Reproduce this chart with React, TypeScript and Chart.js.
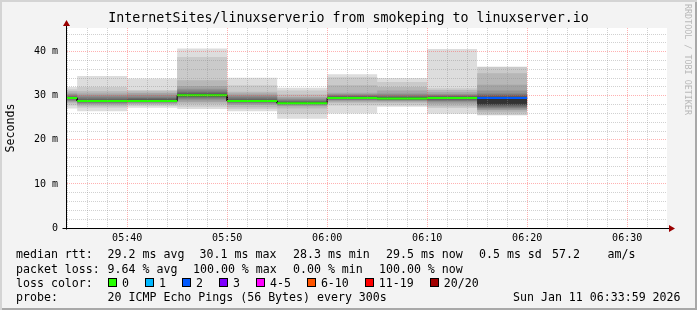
import React, { useEffect, useRef } from 'react';
import { Chart, registerables } from 'chart.js';

Chart.register(...registerables);

// ---------- texts ----------
const TITLE = 'InternetSites/linuxserverio from smokeping to linuxserver.io';
const Y_TITLE = 'Seconds';
const WATERMARK = 'RRDTOOL / TOBI OETIKER';

// ---------- data ----------
// end of each 300 s step, in minutes after 05:00
const stepEnds = [35, 40, 45, 50, 55, 60, 65, 70, 75, 80];
const stepMinutes = 5;
// median rtt per step (ms)
const medians = [29.5, 28.8, 28.8, 30.1, 28.8, 28.3, 29.5, 29.4, 29.5, 29.5];
// lost pings per step (of 20)
const losses = [0, 0, 0, 0, 0, 0, 0, 0, 0, 2];
// sorted ping rtts per step (ms), 20 slots; lost pings are split to both ends (null)
const pings0535 = [27.1, 27.8, 28.3, 28.6, 28.8, 29.0, 29.2, 29.3, 29.4, 29.5, 29.5, 29.6, 29.7, 29.9, 30.1, 30.4, 30.7, 31.1, 31.5, 32.0];
const pings0540 = [26.5, 27.3, 27.6, 28.0, 28.2, 28.4, 28.5, 28.6, 28.7, 28.8, 28.8, 28.9, 29.1, 29.4, 29.8, 30.1, 30.5, 31.0, 32.0, 34.5];
const pings0545 = [27.3, 27.7, 28.0, 28.2, 28.4, 28.5, 28.6, 28.7, 28.8, 28.8, 28.9, 29.0, 29.2, 29.5, 29.8, 30.2, 30.6, 31.0, 31.3, 33.9];
const pings0550 = [27.0, 27.5, 28.2, 28.6, 29.0, 29.3, 29.6, 29.8, 29.9, 30.1, 30.1, 30.3, 30.5, 30.8, 31.2, 31.6, 32.2, 33.5, 38.8, 40.7];
const pings0555 = [26.5, 27.0, 27.4, 27.9, 28.2, 28.4, 28.5, 28.6, 28.7, 28.8, 28.8, 28.9, 29.1, 29.4, 29.8, 30.1, 30.5, 30.9, 32.4, 34.1];
const pings0600 = [24.8, 25.9, 27.1, 27.6, 27.8, 28.0, 28.1, 28.2, 28.3, 28.3, 28.3, 28.4, 28.6, 28.8, 29.1, 29.4, 29.7, 30.3, 31.2, 31.8];
const pings0605 = [26.0, 27.8, 28.4, 28.7, 28.9, 29.1, 29.2, 29.3, 29.4, 29.5, 29.5, 29.6, 29.8, 30.0, 30.1, 30.4, 30.7, 32.4, 34.2, 34.9];
const pings0610 = [27.5, 27.8, 28.4, 28.7, 28.9, 29.0, 29.1, 29.2, 29.3, 29.4, 29.4, 29.5, 29.7, 29.9, 30.2, 30.5, 31.2, 32.0, 33.1, 34.0];
const pings0615 = [25.9, 27.2, 27.6, 28.2, 28.5, 28.8, 29.0, 29.2, 29.4, 29.5, 29.5, 29.6, 29.8, 30.0, 30.1, 30.4, 30.8, 31.3, 31.7, 40.6];
const pings0620 = [null, 25.6, 26.2, 26.7, 26.9, 27.2, 27.5, 27.8, 27.9, 28.2, 29.5, 29.7, 29.9, 30.2, 30.5, 31.2, 32.5, 35.1, 36.6, null];
const pingsByStep: (number | null)[][] = [pings0535, pings0540, pings0545, pings0550, pings0555, pings0600, pings0605, pings0610, pings0615, pings0620];

// axis range: 05:33:59 .. 06:33:59 (minutes after 05:00), seconds in ms
const xMin = 33 + 59 / 60;
const xMax = 93 + 59 / 60;
const yMin = 0;
const yMax = 45.37;
const xMinorStep = 2;
const xMajorStep = 10;
const yMinorStep = 2;
const yMajorStep = 10;

// legend texts
const RTT_LABEL = 'median rtt:';
const RTT_STATS = ['29.2 ms avg', '30.1 ms max', '28.3 ms min', '29.5 ms now', '0.5 ms sd', '57.2', 'am/s'];
const LOSS_LABEL = 'packet loss:';
const LOSS_STATS = ['9.64 % avg', '100.00 % max', '0.00 % min', '100.00 % now'];
const LOSSCOLOR_LABEL = 'loss color:';
const lossLabels = ['0', '1', '2', '3', '4-5', '6-10', '11-19', '20/20'];
const lossColors = ['#26ff00', '#00b8ff', '#0059ff', '#7e00ff', '#ff00ff', '#ff5500', '#ff0000', '#a10000'];
const lossUpper = [0, 1, 2, 3, 5, 10, 19, 20];
const PROBE_LABEL = 'probe:';
const PROBE_TEXT = '20 ICMP Echo Pings (56 Bytes) every 300s';
const DATE_TEXT = 'Sun Jan 11 06:33:59 2026';

// ---------- styles / layout ----------
const MONO = "'DejaVu Sans Mono', monospace";
const SMOKE_COLORS = ['#dddddd', '#cacaca', '#b7b7b7', '#a4a4a4', '#919191', '#7e7e7e', '#6b6b6b', '#585858', '#454545', '#323232'];
const GRID_MINOR = 'rgba(140,140,140,0.4)';
const GRID_MAJOR = 'rgba(255,70,70,0.42)';
const W = 697;
const H = 310;
const RTT_X = [107.6, 199.6, 293, 386, 479, 552, 607.6];
const LOSS_X = [107.6, 193, 293, 379];
const ROW_Y = [254, 268.5, 282.5, 296.5];
const LABEL_X = 16;

function lossIndex(n: number) {
  for (let i = 0; i < lossUpper.length; i++) if (n <= lossUpper[i]) return i;
  return lossUpper.length - 1;
}

function stepSeries(values: (number | null)[]) {
  const pts: { x: number; y: number | null }[] = [];
  stepEnds.forEach((end, i) => {
    pts.push({ x: end - stepMinutes, y: values[i] }, { x: end, y: values[i] });
  });
  return pts;
}

function fmtTime(v: number) {
  const h = 5 + Math.floor(v / 60);
  const m = Math.round(v % 60);
  return String(h).padStart(2, '0') + ':' + String(m).padStart(2, '0');
}

function buildDatasets() {
  const ds: any[] = [];
  for (let b = 0; b < 10; b++) {
    const lo = pingsByStep.map((p) => p[b]);
    const hi = pingsByStep.map((p) => p[19 - b]);
    ds.push({
      label: 'ping' + (b + 1),
      data: stepSeries(lo),
      borderColor: 'transparent',
      borderWidth: 0,
      pointRadius: 0,
      fill: false,
      order: 20 - b,
    });
    ds.push({
      label: 'ping' + (20 - b),
      data: stepSeries(hi),
      borderColor: 'transparent',
      borderWidth: 0,
      pointRadius: 0,
      backgroundColor: SMOKE_COLORS[b],
      fill: '-1',
      order: 20 - b,
    });
  }
  ds.push({
    label: 'median',
    data: stepSeries(medians),
    borderColor: '#000000',
    borderWidth: 1,
    pointRadius: 0,
    fill: false,
    order: 2,
  });
  const used = Array.from(new Set(losses.map(lossIndex)));
  used.forEach((c) => {
    const pts: { x: number; y: number | null }[] = [];
    stepEnds.forEach((end, i) => {
      if (lossIndex(losses[i]) !== c) return;
      pts.push({ x: end - stepMinutes, y: medians[i] }, { x: end, y: medians[i] }, { x: end, y: null });
    });
    ds.push({
      label: 'loss ' + lossLabels[c],
      data: pts,
      borderColor: lossColors[c],
      borderWidth: 2,
      pointRadius: 0,
      fill: false,
      spanGaps: false,
      order: 1,
    });
  });
  return ds;
}

const canvasBg = {
  id: 'canvasBg',
  beforeDraw(chart: any) {
    const { ctx, chartArea: a } = chart;
    ctx.save();
    ctx.fillStyle = '#ffffff';
    ctx.fillRect(a.left, a.top, a.right - a.left, a.bottom - a.top);
    ctx.restore();
  },
};

const rrdAxes = {
  id: 'rrdAxes',
  afterDraw(chart: any) {
    const { ctx, chartArea: a } = chart;
    const xl = Math.round(a.left) - 0.5;
    const yb = Math.round(a.bottom) + 0.5;
    ctx.save();
    ctx.lineWidth = 1;
    ctx.strokeStyle = '#000000';
    ctx.beginPath();
    ctx.moveTo(xl, yb + 1);
    ctx.lineTo(xl, a.top - 3);
    ctx.moveTo(xl - 4, yb);
    ctx.lineTo(a.right + 3, yb);
    ctx.stroke();
    ctx.fillStyle = '#9a0000';
    ctx.beginPath();
    ctx.moveTo(a.right + 8, yb);
    ctx.lineTo(a.right + 2, yb - 3.5);
    ctx.lineTo(a.right + 2, yb + 3.5);
    ctx.closePath();
    ctx.fill();
    ctx.beginPath();
    ctx.moveTo(xl, a.top - 8);
    ctx.lineTo(xl - 3.5, a.top - 2);
    ctx.lineTo(xl + 3.5, a.top - 2);
    ctx.closePath();
    ctx.fill();
    ctx.restore();
  },
};

function makeTicks(min: number, max: number, step: number) {
  const out: { value: number }[] = [];
  for (let v = Math.ceil(min / step) * step; v <= max + 1e-9; v += step) out.push({ value: v });
  return out;
}

export default function App() {
  const ref = useRef<HTMLCanvasElement | null>(null);

  useEffect(() => {
    if (!ref.current) return;
    const chart = new Chart(ref.current, {
      type: 'line',
      data: { datasets: buildDatasets() },
      options: {
        animation: false,
        responsive: false,
        events: [],
        layout: { padding: { top: 0, left: 0, right: 0, bottom: 62 } },
        plugins: {
          legend: { display: false },
          tooltip: { enabled: false },
          title: {
            display: true,
            text: TITLE,
            color: '#000000',
            font: { family: MONO, size: 13.3, weight: 'normal', lineHeight: '16px' } as any,
            padding: { top: 11, bottom: 1 },
          },
        },
        scales: {
          x: {
            type: 'linear',
            min: xMin,
            max: xMax,
            afterFit: (s: any) => {
              s.height = 20;
            },
            afterBuildTicks: (s: any) => {
              s.ticks = makeTicks(xMin, xMax, xMinorStep);
            },
            grid: {
              z: 1,
              drawTicks: false,
              lineWidth: 1,
              color: (c: any) => (c.tick && c.tick.value % xMajorStep === 0 ? GRID_MAJOR : GRID_MINOR),
            },
            border: { display: false, dash: [1, 1] },
            ticks: {
              autoSkip: false,
              maxRotation: 0,
              padding: 4,
              color: '#000000',
              font: { family: MONO, size: 10 },
              callback: (v: any) => (Number(v) % xMajorStep === 0 ? fmtTime(Number(v)) : ''),
            },
          },
          y: {
            type: 'linear',
            position: 'left',
            min: yMin,
            max: yMax,
            afterFit: (s: any) => {
              s.width = 67;
            },
            afterBuildTicks: (s: any) => {
              s.ticks = makeTicks(yMin, yMax, yMinorStep);
            },
            grid: {
              z: 1,
              drawTicks: false,
              lineWidth: 1,
              color: (c: any) => (c.tick && c.tick.value % yMajorStep === 0 ? GRID_MAJOR : GRID_MINOR),
            },
            border: { display: false, dash: [1, 1] },
            ticks: {
              autoSkip: false,
              padding: 9,
              color: '#000000',
              font: { family: MONO, size: 10 },
              callback: (v: any) => {
                const n = Number(v);
                if (n % yMajorStep !== 0) return '';
                return n === 0 ? '0' : n + ' m';
              },
            },
            title: {
              display: true,
              text: Y_TITLE,
              color: '#000000',
              font: { family: MONO, size: 11.6, weight: 'normal' },
              padding: { top: 4, bottom: 0 },
            },
          },
          y2: {
            type: 'linear',
            position: 'right',
            display: true,
            afterFit: (s: any) => {
              s.width = 30;
            },
            grid: { display: false },
            border: { display: false },
            ticks: { display: false },
          },
        },
      } as any,
      plugins: [canvasBg, rrdAxes],
    });
    return () => chart.destroy();
  }, []);

  const text = (s: string, x: number, cy: number, key: string) => (
    <span
      key={key}
      style={{ position: 'absolute', left: x, top: cy - 7, lineHeight: '14px', whiteSpace: 'pre' }}
    >
      {s}
    </span>
  );

  return (
    <div
      style={{
        position: 'fixed',
        left: 0,
        top: 0,
        width: W,
        height: H,
        background: '#f3f3f3',
        boxShadow: 'inset 2px 2px 0 #d4d4d4, inset -2px -2px 0 #a8a8a8',
        fontFamily: MONO,
        fontSize: '11.6px',
        color: '#000',
        overflow: 'hidden',
      }}
    >
      <canvas ref={ref} width={W} height={H} style={{ position: 'absolute', left: 0, top: 0, width: W, height: H }} />
      <div
        style={{
          position: 'absolute',
          left: 683,
          top: 4,
          writingMode: 'vertical-rl',
          fontSize: '8.4px',
          lineHeight: '9px',
          color: '#b8b8b8',
          whiteSpace: 'pre',
        }}
      >
        {WATERMARK}
      </div>
      {text(RTT_LABEL, LABEL_X, ROW_Y[0], 'rl')}
      {RTT_STATS.map((s, i) => text(s, RTT_X[i], ROW_Y[0], 'r' + i))}
      {text(LOSS_LABEL, LABEL_X, ROW_Y[1], 'll')}
      {LOSS_STATS.map((s, i) => text(s, LOSS_X[i], ROW_Y[1], 'l' + i))}
      {text(LOSSCOLOR_LABEL, LABEL_X, ROW_Y[2], 'cl')}
      <div
        style={{
          position: 'absolute',
          left: 108,
          top: ROW_Y[2] - 7,
          height: 14,
          display: 'flex',
          alignItems: 'center',
          lineHeight: '14px',
          whiteSpace: 'pre',
        }}
      >
        {lossLabels.map((l, i) => (
          <span key={l} style={{ display: 'flex', alignItems: 'center', marginRight: 16 }}>
            <span
              style={{
                display: 'inline-block',
                width: 7,
                height: 7,
                background: lossColors[i],
                border: '1px solid #000',
                marginRight: 5,
              }}
            />
            <span>{l}</span>
          </span>
        ))}
      </div>
      {text(PROBE_LABEL, LABEL_X, ROW_Y[3], 'pl')}
      {text(PROBE_TEXT, 107.6, ROW_Y[3], 'pt')}
      {text(DATE_TEXT, 513, ROW_Y[3], 'dt')}
    </div>
  );
}
